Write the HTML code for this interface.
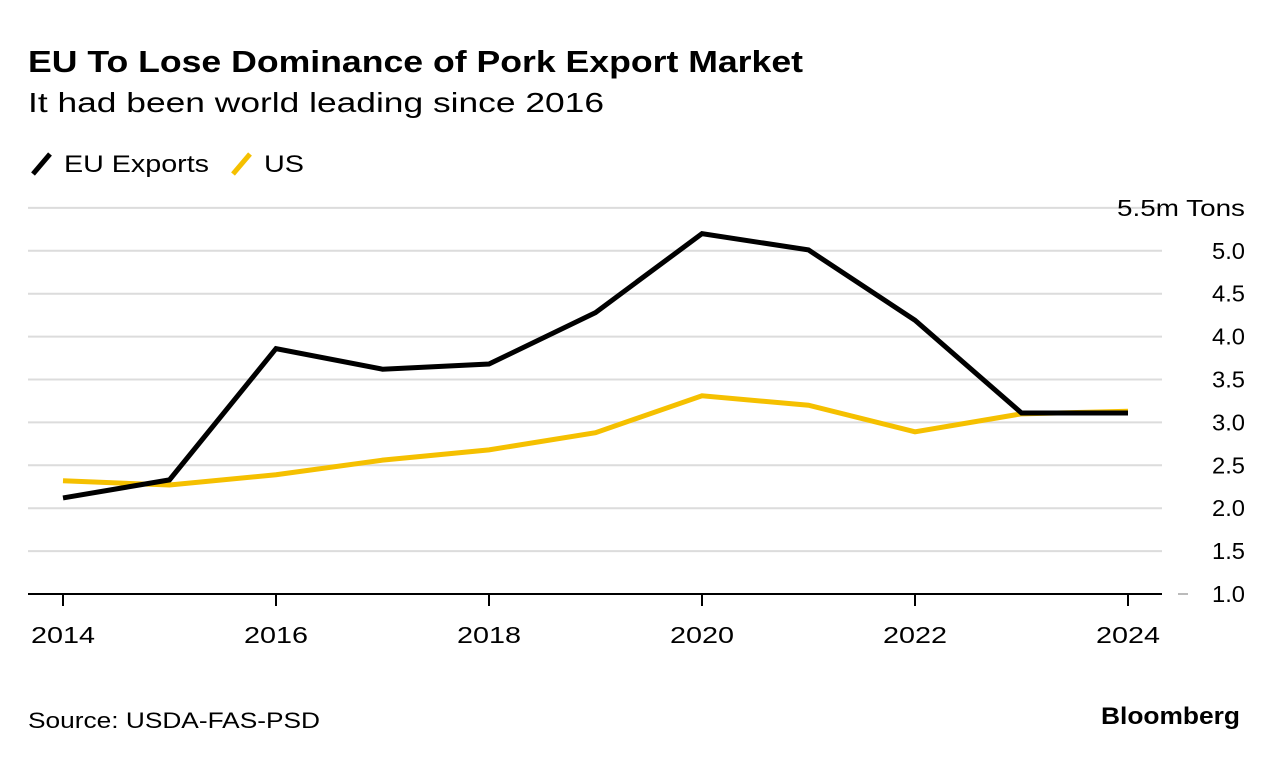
<!DOCTYPE html>
<html><head><meta charset="utf-8"><style>
body{margin:0;background:#fff;font-family:"Liberation Sans",sans-serif;}
svg text{font-family:"Liberation Sans",sans-serif;}
</style></head><body>
<svg width="1279" height="760" viewBox="0 0 1279 760">
<text x="28" y="72" font-size="31" font-weight="bold" fill="#000" textLength="775" lengthAdjust="spacingAndGlyphs">EU To Lose Dominance of Pork Export Market</text>
<text x="28" y="112" font-size="28" fill="#000" textLength="576" lengthAdjust="spacingAndGlyphs">It had been world leading since 2016</text>
<g>
<line x1="33" y1="174" x2="50" y2="154" stroke="#000" stroke-width="5"/>
<text x="64" y="172" font-size="24" textLength="145" lengthAdjust="spacingAndGlyphs">EU Exports</text>
<line x1="233" y1="174" x2="250" y2="154" stroke="#f5c000" stroke-width="5"/>
<text x="264" y="172" font-size="24" textLength="40" lengthAdjust="spacingAndGlyphs">US</text>
</g>
<g id="grid"></g><g id="axes"></g><g id="lines"></g>
<text x="28" y="728" font-size="22" textLength="292" lengthAdjust="spacingAndGlyphs">Source: USDA-FAS-PSD</text>
<text x="1101" y="724" font-size="24" font-weight="bold" textLength="139" lengthAdjust="spacingAndGlyphs">Bloomberg</text>
</svg>
<script>
const years=[2014,2015,2016,2017,2018,2019,2020,2021,2022,2023,2024];
const euValues=[2.12,2.33,3.86,3.62,3.68,4.28,5.2,5.01,4.19,3.11,3.11];
const usValues=[2.32,2.27,2.39,2.56,2.68,2.88,3.31,3.2,2.89,3.1,3.13];
const yTicks=[1.0,1.5,2.0,2.5,3.0,3.5,4.0,4.5,5.0,5.5];
const xTickYears=[2014,2016,2018,2020,2022,2024];
const NS="http://www.w3.org/2000/svg";
const x=v=>63+(v-2014)*106.5;
const y=v=>594-(v-1)*85.8;
function mk(tag,attrs,parent,text){const e=document.createElementNS(NS,tag);for(const k in attrs)e.setAttribute(k,attrs[k]);if(text!==undefined)e.textContent=text;document.getElementById(parent).appendChild(e);return e;}
yTicks.forEach(t=>{
 if(t>1){const g=mk('line',{x1:28,x2:1162,y1:y(t),y2:y(t),stroke:'#dcdcdc','stroke-width':2},'grid');
 
 }
 const big=t===5.5;
 const lbl=big?'5.5m Tons':t.toFixed(1);
 const tx=mk('text',{x:1245,y:y(t)+8,'font-size':23,'text-anchor':'end',textLength:big?128:33,lengthAdjust:'spacingAndGlyphs'},'axes',lbl);
 
 
});
const tk=mk('line',{x1:1178,x2:1188,y1:y(1),y2:y(1),stroke:'#bbb','stroke-width':2},'axes');


const ax=mk('line',{x1:28,x2:1162,y1:594,y2:594,stroke:'#000','stroke-width':2},'axes');


xTickYears.forEach(yr=>{
 const l=mk('line',{x1:x(yr),x2:x(yr),y1:594,y2:606,stroke:'#000','stroke-width':2},'axes');
 
 
 const t=mk('text',{x:x(yr)-32,y:643,'font-size':23,textLength:64,lengthAdjust:'spacingAndGlyphs'},'axes',String(yr));
 
 
});
function line(vals,color,name){
 const p=mk('polyline',{points:vals.map((v,i)=>x(years[i])+','+y(v)).join(' '),fill:'none',stroke:color,'stroke-width':5,'stroke-linejoin':'miter'},'lines');
 
 
}
line(usValues,'#f5c000','us-line');
line(euValues,'#000','eu-exports-line');
</script>
</body></html>
